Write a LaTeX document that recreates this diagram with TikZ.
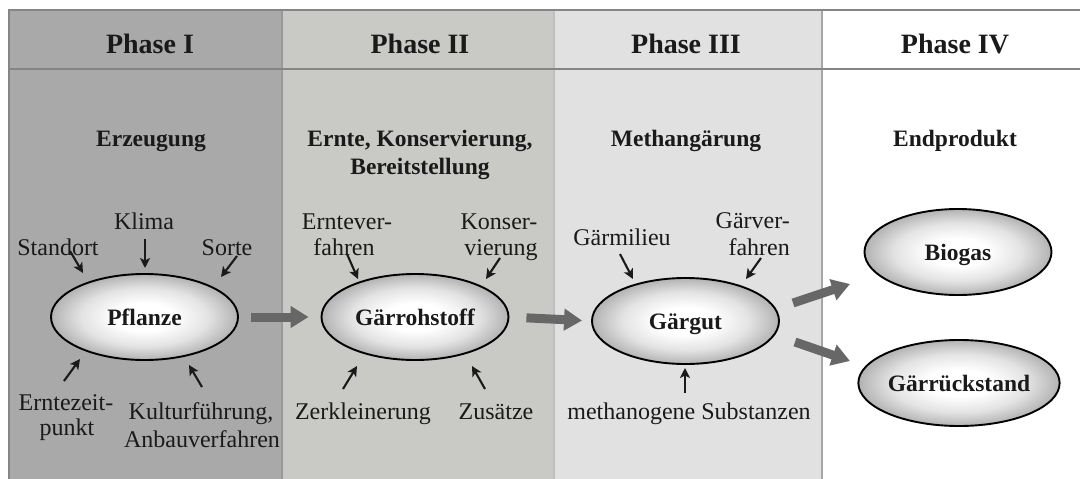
\documentclass[tikz,border=0pt]{standalone}
\usepackage{fontspec}
\setmainfont{Liberation Serif}
\usetikzlibrary{arrows.meta,shapes.geometric,calc}
\definecolor{colI}{HTML}{A9A9A9}
\definecolor{colII}{HTML}{C9C9C5}
\definecolor{colIII}{HTML}{E1E1E1}
\definecolor{framecol}{HTML}{858585}
\definecolor{ink}{HTML}{1A1A1A}
\definecolor{bigarr}{HTML}{676767}
\pgfdeclareradialshading{ellshade}{\pgfpoint{0bp}{0bp}}{color(0bp)=(white); color(8bp)=(white); color(17bp)=(black!11); color(25bp)=(black!30); color(50bp)=(black!30)}
\begin{document}
\begin{tikzpicture}[x=1pt,y=-1pt,
  hdr/.style={font=\fontsize{28}{30}\selectfont\bfseries, text=ink, anchor=base, inner sep=0pt},
  sub/.style={font=\fontsize{23.5}{26}\selectfont\bfseries, text=ink, anchor=base, inner sep=0pt},
  lbl/.style={font=\fontsize{24}{26}\selectfont, text=ink, anchor=base, inner sep=0pt},
  prod/.style={ellipse, draw=black, line width=1.9pt, shading=ellshade,
    minimum width=187pt, minimum height=86pt, inner sep=0pt,
    font=\fontsize{23.5}{26}\selectfont\bfseries, text=ink, text height=16pt, text depth=0pt},
  small/.style={draw=ink, line width=2.1pt, -{Stealth[length=10pt,width=10pt,inset=2.5pt]}},
  big/.style={draw=bigarr, line width=9pt, -{Triangle[length=18pt,width=21pt]}}]
\useasboundingbox (0,0) rectangle (1080,479);
\fill[white] (0,0) rectangle (1080,479);
% columns
\fill[colI] (9,10) rectangle (282,479);
\fill[colII] (282,10) rectangle (554,479);
\fill[colIII] (554,10) rectangle (822,479);
\draw[color=black!40, line width=1.5pt] (282,10) -- (282,479);
\draw[color=black!25, line width=1.2pt] (554,10) -- (554,479);
\draw[color=black!35, line width=1.5pt] (822,10) -- (822,479);
\draw[framecol, line width=2pt] (1080,10) -- (9,10) -- (9,479);
\draw[framecol, line width=2pt] (9,69) -- (1080,69);
% headers
\node[hdr] (h1) at (150,53) {Phase I};
\node[hdr] (h2) at (420,53) {Phase II};
\node[hdr] (h3) at (686,53) {Phase III};
\node[hdr] (h4) at (955,53) {Phase IV};
% subtitles
\node[sub] (s1) at (151,146) {Erzeugung};
\node[sub] (s2a) at (420,146) {Ernte, Konservierung,};
\node[sub] (s2b) at (420,174) {Bereitstellung};
\node[sub] (s3) at (686,146) {Methangärung};
\node[sub] (s4) at (955,146) {Endprodukt};
% ellipses
\node[prod] (pf) at (144.5,317) {Pflanze};
\node[prod] (gr) at (415,317) {Gärrohstoff};
\node[prod] (gg) at (685.5,321) {Gärgut};
\node[prod] (bio) at (958,252) {Biogas};
\node[prod] (rest) at (959,383) {Gärrückstand};
% labels phase I
\node[lbl] (klima) at (144,229) {Klima};
\node[lbl] (standort) at (58,255) {Standort};
\node[lbl] (sorte) at (227,255) {Sorte};
\node[lbl] (ezp1) at (66,410) {Erntezeit-};
\node[lbl] (ezp2) at (67,435) {punkt};
\node[lbl] (kf1) at (201,419) {Kulturführung,};
\node[lbl] (kf2) at (202,447) {Anbauverfahren};
% labels phase II
\node[lbl] (ev1) at (347,229) {Erntever-};
\node[lbl] (ev2) at (344,255) {fahren};
\node[lbl] (ko1) at (499,229) {Konser-};
\node[lbl] (ko2) at (501,255) {vierung};
\node[lbl] (zk) at (363,419) {Zerkleinerung};
\node[lbl] (zs) at (496,419) {Zusätze};
% labels phase III
\node[lbl] (gm) at (622,245) {Gärmilieu};
\node[lbl, anchor=base east] (gv1) at (790,228) {Gärver-};
\node[lbl, anchor=base east] (gv2) at (790,255) {fahren};
\node[lbl] (ms) at (689,419) {methanogene Substanzen};
% small arrow end points
\coordinate (a1s) at (70,251);  \coordinate (a1e) at (83,273);
\coordinate (a2s) at (145,239); \coordinate (a2e) at (145,268);
\coordinate (a3s) at (237,256); \coordinate (a3e) at (221,277);
\coordinate (a4s) at (64,381);  \coordinate (a4e) at (80,359);
\coordinate (a5s) at (202,387); \coordinate (a5e) at (189,365);
\coordinate (b1s) at (347,254); \coordinate (b1e) at (358,279);
\coordinate (b2s) at (500,258); \coordinate (b2e) at (486,279);
\coordinate (b3s) at (343,389); \coordinate (b3e) at (357,366);
\coordinate (b4s) at (485,389); \coordinate (b4e) at (472,366);
\coordinate (c1s) at (620,254); \coordinate (c1e) at (633,279);
\coordinate (c2s) at (761,258); \coordinate (c2e) at (746,279);
\coordinate (c3s) at (685,393); \coordinate (c3e) at (685,368);
\foreach \s/\e in {a1s/a1e,a2s/a2e,a3s/a3e,a4s/a4e,a5s/a5e,b1s/b1e,b2s/b2e,b3s/b3e,b4s/b4e,c1s/c1e,c2s/c2e,c3s/c3e}
  \draw[small] (\s) -- (\e);
% big arrows
\draw[big, shorten <=12pt, shorten >=12pt] (pf.east) -- (gr.west);
\draw[big, shorten <=17pt, shorten >=9pt] (gr.east) -- (gg.west);
\coordinate (d1s) at (793,303); \coordinate (d1e) at (850,284);
\coordinate (d2s) at (795,342); \coordinate (d2e) at (850,361);
\draw[big] (d1s) -- (d1e);
\draw[big] (d2s) -- (d2e);
\end{tikzpicture}
\end{document}
